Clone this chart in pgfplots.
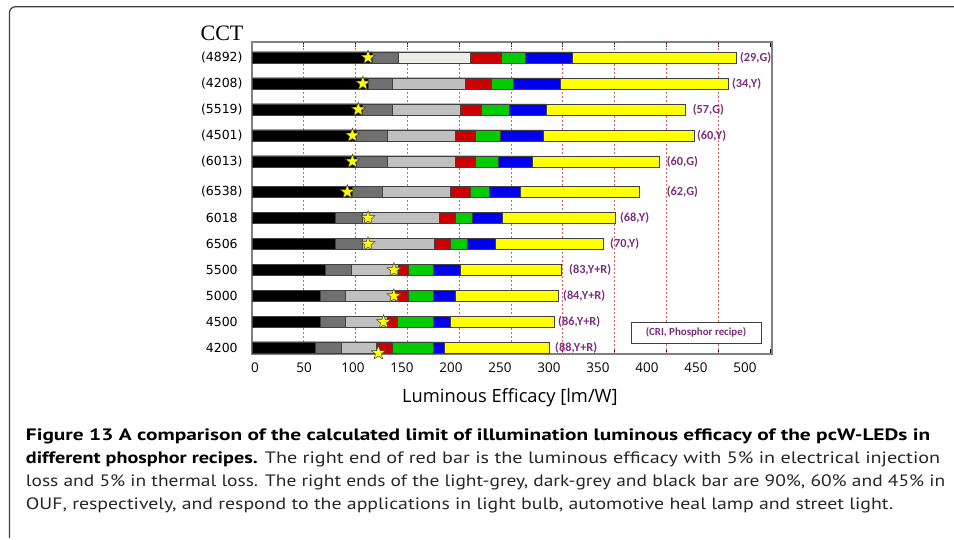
\documentclass[border=0pt]{standalone}
\usepackage{pgfplots}
\pgfplotsset{compat=1.18}
\usepackage{pgfplotstable}
\usepackage{graphicx}
\usepackage{fontspec}
\setmainfont{Open Sans}
\newfontfamily\osans{Open Sans}
\newfontfamily\dejavu{DejaVu Sans}
\newfontfamily\carl{Carlito}
\newfontfamily\lserif{Liberation Serif}
\newfontfamily\capfont{PT Sans}

\definecolor{cblack}{HTML}{000000}
\definecolor{cdgrey}{HTML}{707070}
\definecolor{clgrey}{HTML}{C0C0C0}
\definecolor{cwhite}{HTML}{EEEDE5}
\definecolor{cred}{HTML}{CC0000}
\definecolor{cgreen}{HTML}{00CC00}
\definecolor{cblue}{HTML}{0000EE}
\definecolor{cyellow}{HTML}{FFFF00}
\definecolor{cedge}{HTML}{404040}
\definecolor{labpurple}{HTML}{7A2E7F}
\definecolor{gridred}{HTML}{E06060}

\pgfdeclareplotmark{fstar}{%
  \pgfpathmoveto{\pgfpointpolar{90}{\pgfplotmarksize}}%
  \pgfpathlineto{\pgfpointpolar{126}{0.42\pgfplotmarksize}}%
  \pgfpathlineto{\pgfpointpolar{162}{\pgfplotmarksize}}%
  \pgfpathlineto{\pgfpointpolar{198}{0.42\pgfplotmarksize}}%
  \pgfpathlineto{\pgfpointpolar{234}{\pgfplotmarksize}}%
  \pgfpathlineto{\pgfpointpolar{270}{0.42\pgfplotmarksize}}%
  \pgfpathlineto{\pgfpointpolar{306}{\pgfplotmarksize}}%
  \pgfpathlineto{\pgfpointpolar{342}{0.42\pgfplotmarksize}}%
  \pgfpathlineto{\pgfpointpolar{18}{\pgfplotmarksize}}%
  \pgfpathlineto{\pgfpointpolar{54}{0.42\pgfplotmarksize}}%
  \pgfpathclose
  \pgfusepathqfillstroke}

% cumulative right ends of each coloured segment (y = minus row position)
\pgfplotstableread{
y      black dgrey lgrey red   green blue  yellow star  sy
-57.5  116.5 141   210.7 241   264   309   467.5  112   -57.5
-83.5  112.3 135.4 205.6 231.3 252.6 297.3 459.8  107   -83.5
-109.5 106.8 135.4 200.8 221   248   284   418.6  102.6 -109.5
-135.5 101   131   196   216   240   281   427    97    -135.5
-161.5 101   131   196   216   237.8 271   393.5  97    -161.5
-192   97    125.8 191   211   228.8 258.7 373.6  92    -192
-218   80.8  106.8 180.5 196   213   242   351    112   -218
-244   80.8  106   175.7 191.8 207.8 235.2 339    112   -244
-270   70.8  95.6  141   151   175   200.8 299    137   -270
-296   66    90.4  138   151   175   196   295.7  137   -296
-322   66    90.4  131   140.6 175   191   291.5  127   -322
-347.5 60.8  86    120.3 135.4 175   186   287    122   -353
}\bars

\pgfplotstableread{
x     y      lab
471   -57.5  (29,G)
463.3 -83.5  (34,Y)
425.4 -109.5 (57,G)
429.5 -135.5 (60,Y)
400.3 -161.5 (60,G)
400.3 -192   (62,G)
355.2 -218   (68,Y)
345.6 -244   (70,Y)
306   -270   (83,Y+R)
300.2 -296   (84,Y+R)
295.4 -322   (86,Y+R)
292.5 -347.5 (88,Y+R)
}\labels

\begin{document}
\begin{tikzpicture}[x=1bp,y=1bp]
\useasboundingbox (0,0) rectangle (954,540);
% outer frame of the figure panel
\draw[cedge, line width=1.2bp, rounded corners=6bp] (9.5,2) -- (9.5,533.3) -- (960,533.3);

\begin{axis}[
  at={(252bp,186bp)}, anchor=south west,
  scale only axis, width=520bp, height=312bp,
  xmin=0, xmax=502, ymin=-354, ymax=-42,
  clip=false,
  axis line style={draw=gray, line width=1.2bp},
  xtick={0,50,...,500},
  extra x ticks={50,100,...,450},
  extra x tick labels={},
  extra x tick style={grid=major, major tick length=0pt},
  grid style={gridred, line width=0.6bp, dash pattern=on 2bp off 2bp},
  x tick style={black, line width=0.6bp},
  major tick length=5bp,
  /pgf/number format/assume math mode=true,
  xticklabel style={font=\osans\fontsize{13.4bp}{15bp}\selectfont, inner sep=0pt, anchor=north, yshift=-8.5bp, xshift={(3-2.8*\ticknum)*1bp}},
  ytick={-57.5,-83.5,-109.5,-135.5,-161.5,-192,-218,-244,-270,-296,-322,-347.5},
  yticklabels={(4892),(4208),(5519),(4501),(6013),(6538),6018,6506,5500,5000,4500,4200},
  y tick style={draw=none},
  yticklabel style={font=\dejavu\fontsize{12.5bp}{14bp}\selectfont, text width=50bp, align=center, inner sep=0pt, anchor=east, xshift=-5bp},
  xlabel={Luminous Efficacy [lm/W]},
  xlabel style={font=\osans\fontsize{18.3bp}{20bp}\selectfont, at={(axis description cs:0.496,0)}, anchor=base, yshift=-48.7bp, inner sep=0pt},
  segment/.style={xbar, bar shift=0pt, bar width=11bp, draw=cedge, line width=0.6bp, fill=#1},
]
\addplot[segment=cyellow] table[x=yellow, y=y] \bars;
\addplot[segment=cblue]   table[x=blue,   y=y] \bars;
\addplot[segment=cgreen]  table[x=green,  y=y] \bars;
\addplot[segment=cred]    table[x=red,    y=y] \bars;
\addplot[segment=clgrey]  table[x=lgrey,  y=y] \bars;
\addplot[segment=cwhite]  coordinates {(210.7,-57.5)};
\addplot[segment=cdgrey]  table[x=dgrey,  y=y] \bars;
\addplot[segment=cblack]  table[x=black,  y=y] \bars;
\addplot[only marks, mark=fstar, mark size=7.3bp, draw=black!75, line width=0.5bp, mark options={fill=cyellow}] table[x=star, y=sy] \bars;
\addplot[only marks, mark=none, point meta=explicit symbolic,
  nodes near coords, nodes near coords style={anchor=west, inner sep=0pt, text=labpurple, font=\carl\bfseries\fontsize{12.3bp}{14bp}\selectfont}]
  table[x=x, y=y, meta=lab] \labels;
\node[draw=cedge, line width=0.8bp, fill=white, minimum width=130bp, minimum height=21bp, inner sep=0pt, text=labpurple, font=\carl\bfseries\fontsize{10.9bp}{12bp}\selectfont] at (axis cs:428.6,-332.5) {(CRI, Phosphor recipe)};
\end{axis}

\node[anchor=base, inner sep=0pt, font=\lserif\fontsize{22bp}{24bp}\selectfont] at (222,499) {CCT};

\begin{scope}[every node/.style={anchor=base west, inner sep=0pt}]
\node at (25.7,99.3) {\resizebox{904.3bp}{\height}{\capfont\fontsize{16.5bp}{18bp}\selectfont\bfseries Figure 13 A comparison of the calculated limit of illumination luminous efficacy of the pcW-LEDs in}};
\node at (25.7,76.4) {\resizebox{914.3bp}{\height}{\capfont\fontsize{16.5bp}{18bp}\selectfont\textbf{different phosphor recipes.} \color{black!85}The right end of red bar is the luminous efficacy with 5\% in electrical injection}};
\node at (25.7,53.5) {\resizebox{919.3bp}{\height}{\capfont\fontsize{16.5bp}{18bp}\selectfont\color{black!85}loss and 5\% in thermal loss. The right ends of the light-grey, dark-grey and black bar are 90\%, 60\% and 45\% in}};
\node at (25.7,30.6) {\resizebox{867.3bp}{\height}{\capfont\fontsize{16.5bp}{18bp}\selectfont\color{black!85}OUF, respectively, and respond to the applications in light bulb, automotive heal lamp and street light.}};
\end{scope}
\end{tikzpicture}
\end{document}
